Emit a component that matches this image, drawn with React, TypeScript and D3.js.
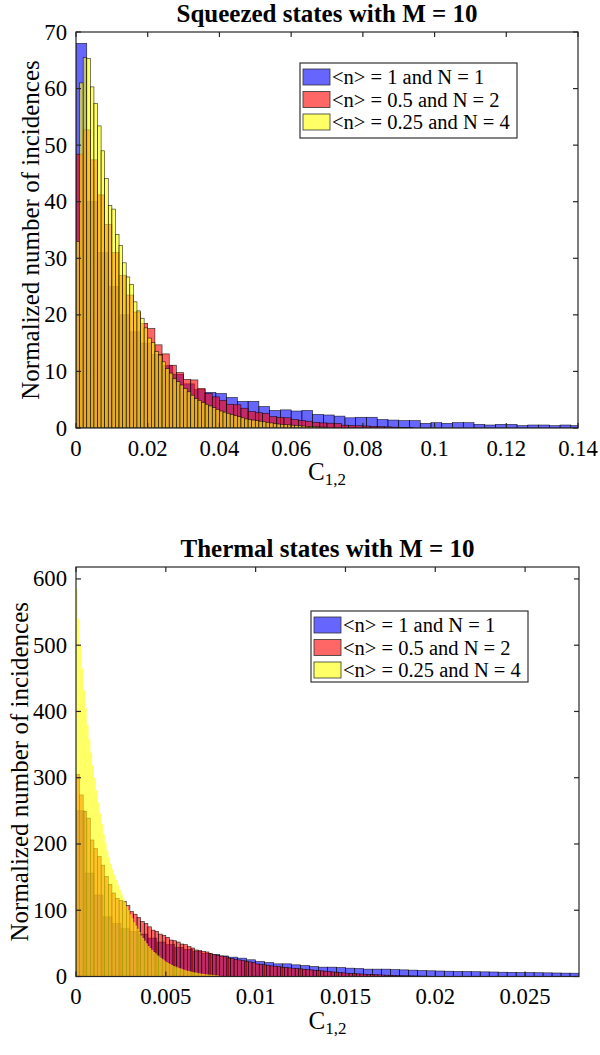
import React from 'react';
import * as d3 from 'd3';

// ---------------- data ----------------
const seriesLabels = ['<n> = 1 and N = 1', '<n> = 0.5 and N = 2', '<n> = 0.25 and N = 4'];
const seriesColors = ['#0000ff', '#ff0000', '#ffff00'];
const titles = ['Squeezed states with M = 10', 'Thermal states with M = 10'];

// Squeezed states (top)
const topBinWidths = [0.003, 0.002, 0.001];
const topBlue = [68, 40, 31, 25, 20, 17, 15, 13, 11, 9.5, 7.8, 6.8, 6.3, 6.1, 5.4, 4.7, 4.7, 3.8, 3.1, 3.2, 3.0, 3.1, 2.4, 2.3, 2.1, 1.8, 1.9, 1.9, 1.5, 1.4, 1.3, 1.3, 0.82, 0.94, 0.82, 0.94, 0.94, 0.65, 0.53, 0.65, 0.65, 0.41, 0.53, 0.53, 0.41, 0.53, 0.41];
const topRed = [48.4, 52.7, 47.4, 41.2, 36, 31, 27, 23.5, 20.5, 18.5, 17.6, 14.7, 13.1, 11.1, 9.8, 8.6, 8.5, 7.0, 6.1, 5.5, 4.9, 4.2, 4.1, 3.5, 2.9, 2.7, 2.6, 2.0, 1.9, 1.8, 1.5, 1.3, 1.2, 1.0, 0.9, 0.85, 0.8, 0.5, 0.45, 0.4, 0.35, 0.3, 0.25, 0.2, 0.15, 0.12, 0.1];
const topYellow = [33, 61, 65.5, 65.3, 60.3, 57.4, 53.4, 49, 44.1, 39.3, 38.7, 34.2, 32.3, 29.2, 26.7, 25.4, 22.3, 20.7, 19.4, 17.7, 15.9, 15.1, 13.5, 12.9, 11.7, 10.5, 9.7, 8.7, 8.2, 7.6, 7.0, 6.4, 5.8, 5.2, 4.9, 4.5, 4.2, 3.9, 3.6, 3.3, 3.0, 2.8, 2.6, 2.4, 2.2, 2.0, 1.8, 1.6, 1.5, 1.4, 1.3, 1.2, 1.1, 1.0, 0.9, 0.8, 0.7, 0.65, 0.6, 0.55, 0.5, 0.45, 0.4, 0.35, 0.3, 0.28, 0.25, 0.2, 0.18, 0.15];
const topXTicks = [0, 0.02, 0.04, 0.06, 0.08, 0.1, 0.12, 0.14];
const topYTicks = [0, 10, 20, 30, 40, 50, 60, 70];
const topXDomain = [0, 0.14];
const topYDomain = [0, 70];

// Thermal states (bottom)
const botBinWidths = [0.0005, 0.0002, 0.0001];
const botBlue = [250, 156, 123, 90, 80, 72, 68, 64, 58, 52, 48, 44, 41, 38, 35, 33, 31, 29.2, 27.7, 25.2, 22.6, 21.1, 19.1, 19.1, 17.6, 16.6, 15.1, 14.1, 14.1, 13.6, 12.6, 12.1, 11.1, 11.1, 11.1, 10.5, 10, 9.6, 9, 8.6, 8.3, 8, 7.6, 7.5, 7.2, 7, 6.8, 6.5, 6.3, 6, 6, 5.7, 5.5, 5.3, 5.1, 5];
const botRed = [305, 274, 249, 239, 206, 193, 181, 168, 151, 139, 126, 118, 115, 113, 107, 98, 94, 89, 83, 80, 75, 70, 68, 64, 62, 59, 55, 54, 52, 49, 48, 45, 43, 40, 39, 38, 37, 35, 33, 32, 31, 30, 28, 27, 26, 25, 24, 23, 22, 21, 19, 18.5, 17.6, 17, 16, 15.5, 15, 14, 13.5, 13, 12.5, 12, 11.5, 11, 10.5, 10, 9.5, 9, 8.5, 8, 7.5, 7, 6.5, 6, 5.5, 5, 4.7, 4.4, 4, 3.8, 3.5, 3.2, 3, 2.7, 2.5, 2.2, 2, 1.8, 1.6, 1.4, 1.2, 1.1, 1, 0.9, 0.8, 0.7, 0.6, 0.5, 0.4, 0.3];
const botYellow = [585, 540, 500, 465, 432, 405, 380, 358, 338, 318, 300, 281, 263, 246, 230, 215, 202, 190, 180, 170, 162, 154, 146, 138, 131, 124, 118, 112, 106, 100, 94, 88, 82, 77, 72, 67, 62, 58, 54, 50, 46, 43, 40, 37, 35, 32, 30, 28, 26, 24, 22, 20.5, 19, 17.5, 16, 15, 14, 13, 12, 11, 10, 9.2, 8.5, 7.8, 7.2, 6.6, 6, 5.5, 5, 4.6, 4.2, 3.8, 3.4, 3.1, 2.8, 2.5, 2.2, 2, 1.8, 1.6];
const botXTicks = [0, 0.005, 0.01, 0.015, 0.02, 0.025];
const botYTicks = [0, 100, 200, 300, 400, 500, 600];
const botXDomain = [0, 0.028];
const botYDomain = [0, 618];

// ---------------- drawing ----------------
const FONT = '"Liberation Serif", "Times New Roman", serif';
const AXIS = '#262626';
const TICK_FS = 22.7;
const LABEL_FS = 25;

type Box = { l: number; r: number; t: number; b: number };
type Series = { values: number[]; bin: number; color: string; mode: 'bars' | 'area' };

function Panel(props: {
  id: string;
  box: Box;
  xDomain: number[];
  yDomain: number[];
  xTicks: number[];
  yTicks: number[];
  series: Series[];
  title: string;
  yLabelX: number;
  legend: { x: number; y: number; w: number; h: number };
}) {
  const { id, box, xDomain, yDomain, xTicks, yTicks, series, title, legend, yLabelX } = props;
  const x = d3.scaleLinear().domain(xDomain).range([box.l, box.r]);
  const y = d3.scaleLinear().domain(yDomain).range([box.b, box.t]);
  const cx = (box.l + box.r) / 2;
  const cy = (box.t + box.b) / 2;
  const tl = 5;

  const drawSeries = (s: Series, si: number) => {
    if (s.mode === 'area') {
      const pts = s.values.map((v, i) => ({ x0: i * s.bin, v }));
      pts.push({ x0: s.values.length * s.bin, v: 0 });
      const area = d3
        .area<{ x0: number; v: number }>()
        .x((d) => x(d.x0))
        .y0(y(0))
        .y1((d) => y(d.v))
        .curve(d3.curveStepAfter);
      return <path key={si} d={area(pts) || ''} fill={s.color} fillOpacity={0.6} stroke="none" />;
    }
    return (
      <g key={si}>
        {s.values.map((v, i) => {
          const x0 = x(i * s.bin);
          const x1 = x((i + 1) * s.bin);
          return (
            <rect
              key={i}
              x={x0}
              y={y(v)}
              width={x1 - x0}
              height={y(0) - y(v)}
              fill={s.color}
              fillOpacity={0.6}
              stroke="#000"
              strokeOpacity={0.85}
              strokeWidth={0.6}
            />
          );
        })}
      </g>
    );
  };

  return (
    <g>
      <defs>
        <clipPath id={id}>
          <rect x={box.l} y={box.t} width={box.r - box.l} height={box.b - box.t} />
        </clipPath>
      </defs>
      <g clipPath={`url(#${id})`}>{series.map(drawSeries)}</g>

      {/* axes box */}
      <rect x={box.l} y={box.t} width={box.r - box.l} height={box.b - box.t} fill="none" stroke={AXIS} strokeWidth={1.2} />

      {/* x ticks */}
      {xTicks.map((t, i) => (
        <g key={'xt' + i}>
          <line x1={x(t)} x2={x(t)} y1={box.b} y2={box.b - tl} stroke={AXIS} strokeWidth={1.2} />
          <line x1={x(t)} x2={x(t)} y1={box.t} y2={box.t + tl} stroke={AXIS} strokeWidth={1.2} />
          <text x={x(t)} y={box.b + 27.5} textAnchor="middle" fontFamily={FONT} fontSize={TICK_FS} fill="#000">
            {String(t)}
          </text>
        </g>
      ))}
      {/* y ticks */}
      {yTicks.map((t, i) => (
        <g key={'yt' + i}>
          <line x1={box.l} x2={box.l + tl} y1={y(t)} y2={y(t)} stroke={AXIS} strokeWidth={1.2} />
          <line x1={box.r} x2={box.r - tl} y1={y(t)} y2={y(t)} stroke={AXIS} strokeWidth={1.2} />
          <text x={box.l - 9} y={y(t) + 7.5} textAnchor="end" fontFamily={FONT} fontSize={TICK_FS} fill="#000">
            {String(t)}
          </text>
        </g>
      ))}

      {/* title */}
      <text x={cx} y={box.t - 10} textAnchor="middle" fontFamily={FONT} fontSize={LABEL_FS} fontWeight="bold" fill="#000">
        {title}
      </text>
      {/* x label */}
      <text x={cx} y={box.b + 52} textAnchor="middle" fontFamily={FONT} fontSize={LABEL_FS} fill="#000">
        C
        <tspan fontSize={17} dy={5}>
          1,2
        </tspan>
      </text>
      {/* y label */}
      <text
        transform={`translate(${yLabelX},${cy}) rotate(-90)`}
        textAnchor="middle"
        fontFamily={FONT}
        fontSize={LABEL_FS}
        fill="#000"
      >
        Normalized number of incidences
      </text>

      {/* legend */}
      <rect x={legend.x} y={legend.y} width={legend.w} height={legend.h} fill="#fff" stroke="#333" strokeWidth={1.2} />
      {seriesLabels.map((lab, i) => {
        const rowC = legend.y + 14 + i * 22.5;
        return (
          <g key={'lg' + i}>
            <rect x={legend.x + 3} y={rowC - 8} width={27} height={16} fill={seriesColors[i]} fillOpacity={0.6} stroke="#333" strokeWidth={0.8} />
            <text x={legend.x + 32} y={rowC + 7} fontFamily={FONT} fontSize={20.5} fill="#000">
              {lab}
            </text>
          </g>
        );
      })}
    </g>
  );
}

export default function App() {
  const topSeries: Series[] = [
    { values: topBlue, bin: topBinWidths[0], color: seriesColors[0], mode: 'bars' },
    { values: topRed, bin: topBinWidths[1], color: seriesColors[1], mode: 'bars' },
    { values: topYellow, bin: topBinWidths[2], color: seriesColors[2], mode: 'bars' },
  ];
  const botSeries: Series[] = [
    { values: botBlue, bin: botBinWidths[0], color: seriesColors[0], mode: 'bars' },
    { values: botRed, bin: botBinWidths[1], color: seriesColors[1], mode: 'bars' },
    { values: botYellow, bin: botBinWidths[2], color: seriesColors[2], mode: 'area' },
  ];
  return (
    <svg
      width={600}
      height={1055}
      viewBox="0 0 600 1055"
      style={{ position: 'absolute', left: 0, top: 0, background: '#fff' }}
    >
      <rect x={0} y={0} width={600} height={1055} fill="#fff" />
      <Panel
        id="clipTop"
        box={{ l: 76, r: 578, t: 32, b: 428 }}
        xDomain={topXDomain}
        yDomain={topYDomain}
        xTicks={topXTicks}
        yTicks={topYTicks}
        series={topSeries}
        title={titles[0]}
        yLabelX={39}
        legend={{ x: 300, y: 63, w: 217, h: 75 }}
      />
      <Panel
        id="clipBot"
        box={{ l: 76, r: 579, t: 567, b: 976.5 }}
        xDomain={botXDomain}
        yDomain={botYDomain}
        xTicks={botXTicks}
        yTicks={botYTicks}
        series={botSeries}
        title={titles[1]}
        yLabelX={28}
        legend={{ x: 311, y: 611, w: 217, h: 71 }}
      />
    </svg>
  );
}
